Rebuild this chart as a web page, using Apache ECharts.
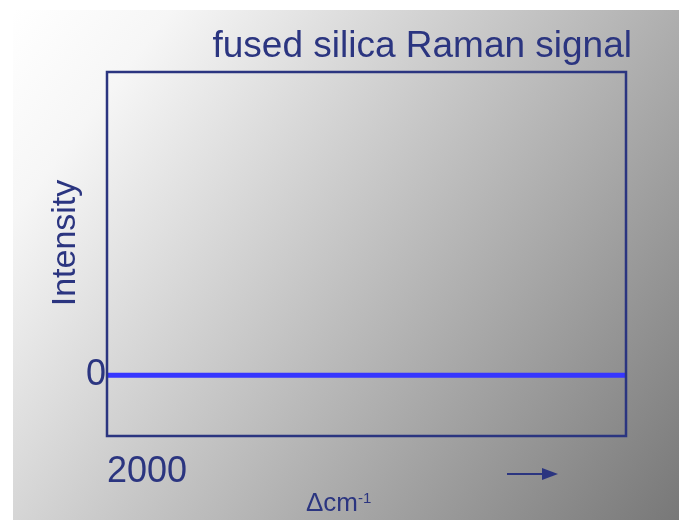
<!DOCTYPE html>
<html>
<head>
<meta charset="utf-8">
<script src="https://cdn.jsdelivr.net/npm/echarts@6/dist/echarts.min.js"></script>
<style>
html, body { margin: 0; padding: 0; background: #fff; }
#chartDom { width: 679px; height: 520px; }
</style>
</head>
<body>
<div id="chartDom"></div>
<script>
// wavenumber shift (cm-1) and signal, flat at zero
const shifts = [2000, 2200, 2400, 2600, 2800, 3000]
const intensity = [0, 0, 0, 0, 0, 0]
const yTicks = [0]

const navy = '#2b3580'
const font = '"Liberation Sans", Arial, sans-serif'

const chart = echarts.init(document.getElementById('chartDom'))
const option = {
  backgroundColor: '#fff',
  animation: false,
  graphic: [
    {
      type: 'rect',
      z: -10,
      silent: true,
      shape: { x: 13, y: 10, width: 666, height: 510 },
      style: {
        fill: new echarts.graphic.LinearGradient(0, 0, 1, 1, [
          { offset: 0, color: '#ffffff' },
          { offset: 0.15, color: '#f6f6f6' },
          { offset: 1, color: '#787878' }
        ])
      }
    },
    {
      type: 'text',
      x: 632,
      y: 47,
      style: { text: 'fused silica Raman signal', fill: navy, font: '37px ' + font, align: 'right', verticalAlign: 'middle' }
    },
    {
      type: 'text',
      x: 66,
      y: 243,
      rotation: Math.PI / 2,
      style: { text: 'Intensity', fill: navy, font: '34px ' + font, align: 'center', verticalAlign: 'middle' }
    },
    {
      type: 'text',
      left: 306,
      top: 491,
      style: {
        text: '{a|Δcm}{b|-1}',
        fill: navy,
        rich: {
          a: { fontSize: 26, fontFamily: font, color: navy, verticalAlign: 'bottom' },
          b: { fontSize: 15, fontFamily: font, color: navy, verticalAlign: 'top', padding: [0, 0, 10, 0] }
        }
      }
    },
    {
      type: 'line',
      shape: { x1: 507, y1: 474, x2: 545, y2: 474 },
      style: { stroke: navy, lineWidth: 2 }
    },
    {
      type: 'polygon',
      shape: { points: [[542, 468], [558, 474], [542, 480]] },
      style: { fill: navy }
    }
  ],
  grid: { left: 107, right: 53, top: 72, bottom: 84, show: false },
  xAxis: {
    type: 'value',
    min: 2000,
    max: 3000,
    interval: 1000,
    axisLine: { show: true, onZero: false, lineStyle: { color: navy, width: 2 } },
    axisTick: { show: false },
    splitLine: { show: false },
    axisLabel: {
      color: navy,
      fontSize: 36,
      fontFamily: font,
      align: 'left',
      margin: 18,
      formatter: v => (v === 2000 ? '2000' : '')
    }
  },
  yAxis: {
    type: 'value',
    min: -1,
    max: 5,
    interval: 1,
    axisLine: { show: true, lineStyle: { color: navy, width: 2 } },
    axisTick: { show: false },
    splitLine: { show: false },
    axisLabel: {
      color: navy,
      fontSize: 36,
      fontFamily: font,
      margin: 1,
      formatter: v => (yTicks.includes(v) ? String(v) : '')
    }
  },
  series: [
    {
      type: 'line',
      data: shifts.map((s, i) => [s, intensity[i]]),
      symbol: 'none',
      lineStyle: { color: '#3636ff', width: 5 },
      z: 1
    }
  ]
}
chart.setOption(option)
// draw the plot frame
const rect = chart.getModel().getComponent('grid').coordinateSystem.getRect()
chart.setOption({
  graphic: option.graphic.concat([{
    type: 'rect',
    shape: { x: rect.x, y: rect.y, width: rect.width, height: rect.height },
    style: { fill: 'none', stroke: navy, lineWidth: 2.5 },
    z: 5,
    silent: true
  }])
})
</script>
</body>
</html>
